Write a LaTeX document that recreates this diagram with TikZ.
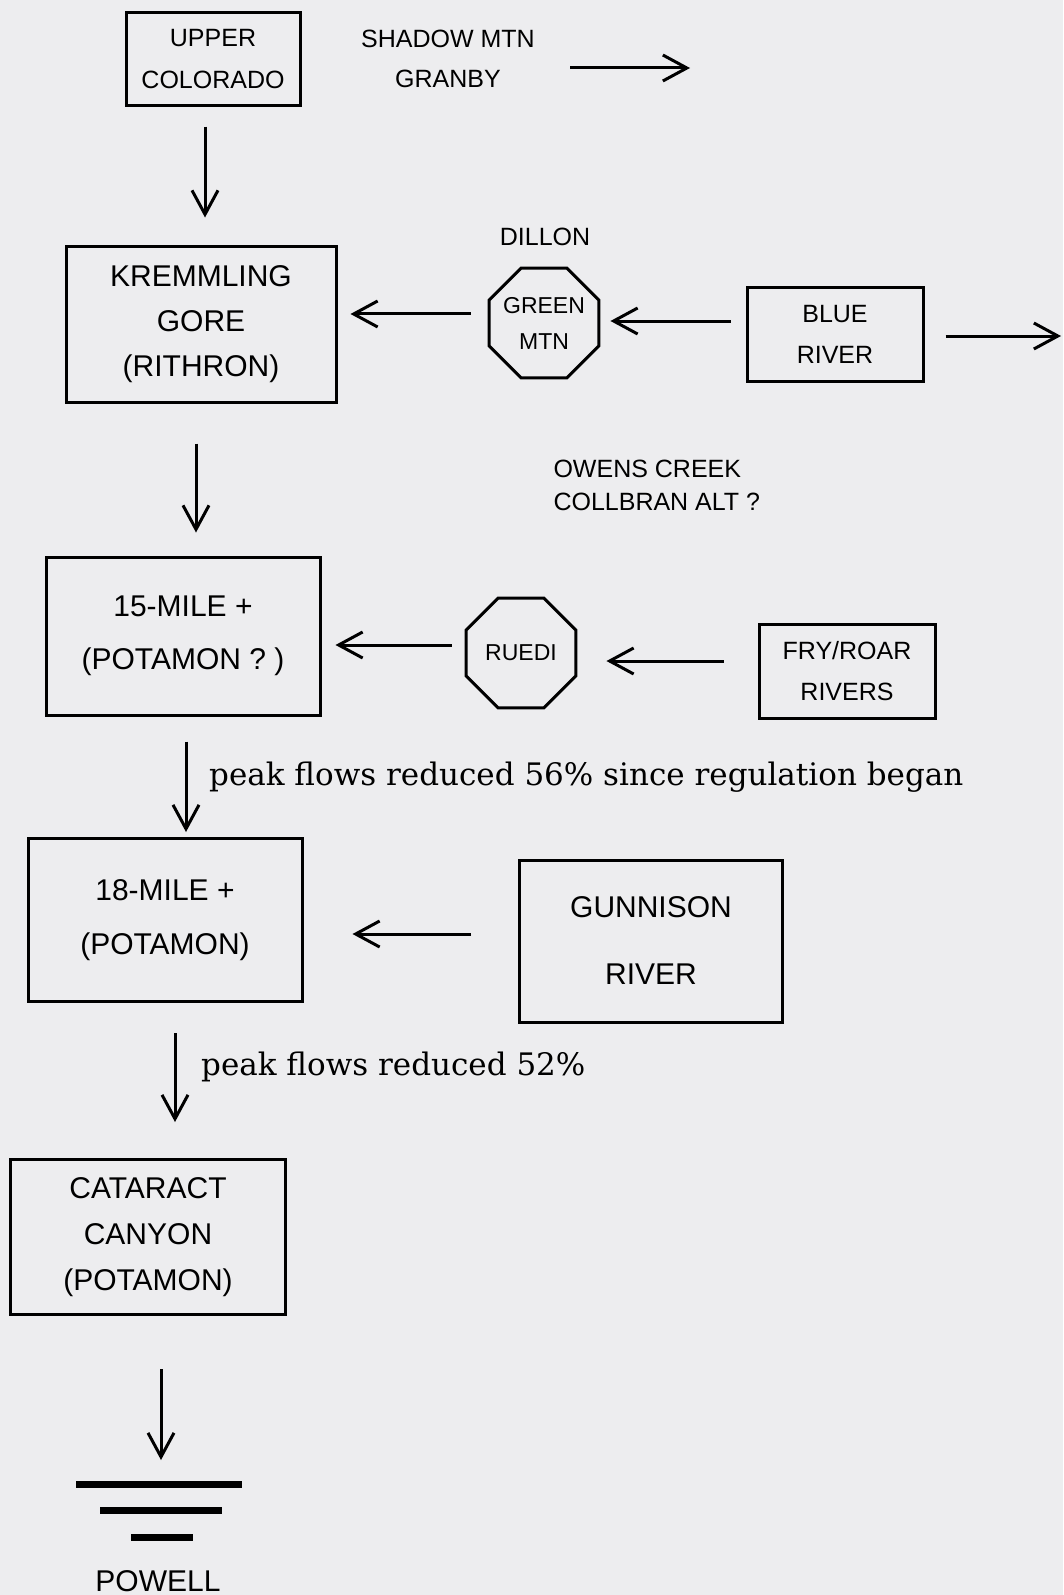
\documentclass[tikz,border=0pt]{standalone}
\usepackage{fontspec}
\setmainfont{Liberation Sans}
\newfontfamily\notefont{DejaVu Serif}
\usetikzlibrary{arrows.meta,shapes.geometric}
\definecolor{paper}{RGB}{237,237,239}

\begin{document}
\begin{tikzpicture}[x=1pt,y=-1pt,
  box/.style={draw, line width=3pt, inner sep=0pt, align=center},
  dam/.style={draw, line width=3pt, regular polygon, regular polygon sides=8, inner sep=-10pt, minimum size=119pt, align=center},
  small/.style={font=\fontsize{25}{#1}\selectfont},
  big/.style={font=\fontsize{30}{#1}\selectfont},
  flow/.style={line width=3pt, -{Straight Barb[length=24pt,width=26pt,line width=3pt]}},
  note/.style={font=\notefont\fontsize{31}{36}\selectfont, anchor=base west, inner sep=0pt}]
\useasboundingbox (0,0) rectangle (1063,1595);
\fill[paper] (0,0) rectangle (1063,1595);

\node[box, small=42, minimum width=174pt, minimum height=92pt] (upper) at (213,59) {UPPER\\COLORADO};
\node[small=40, align=center] (shadow) at (448,59) {SHADOW MTN\\GRANBY};
\node[box, big=45, minimum width=270pt, minimum height=156pt] (krem) at (201,324) {KREMMLING\\GORE\\(RITHRON)};
\node[dam, font=\fontsize{23}{36}\selectfont] (green) at (544,323) {GREEN\\MTN};
\node[small=30] (dillon) at (545,237) {DILLON};
\node[box, small=41, minimum width=176pt, minimum height=94pt] (blue) at (835,334) {BLUE\\RIVER};
\node[small=33, align=left, anchor=west] (owens) at (550,485) {OWENS CREEK\\COLLBRAN ALT ?};
\node[box, big=53, minimum width=274pt, minimum height=158pt] (fifteen) at (183,636) {15-MILE +\\(POTAMON ? )};
\node[dam, font=\fontsize{23}{30}\selectfont] (ruedi) at (521,653) {RUEDI};
\node[box, small=41, minimum width=176pt, minimum height=94pt] (fry) at (847,671) {FRY/ROAR\\RIVERS};
\node[note] (note1) at (209,785) {peak flows reduced 56\% since regulation began};
\node[box, big=54, minimum width=274pt, minimum height=163pt] (eighteen) at (165,920) {18-MILE +\\(POTAMON)};
\node[box, big=67, minimum width=263pt, minimum height=162pt] (gunnison) at (651,941) {GUNNISON\\RIVER};
\node[note] (note2) at (201,1075) {peak flows reduced 52\%};
\node[box, big=46, minimum width=275pt, minimum height=155pt] (cataract) at (148,1237) {CATARACT\\CANYON\\(POTAMON)};
\node[big=30] (powell) at (158,1581) {POWELL};

% lake Powell
\coordinate (lake) at (161,1484);
\draw[line width=7pt] (76,1484) -- (242,1484);
\draw[line width=7pt] (100,1510) -- (222,1510);
\draw[line width=7pt] (131,1537) -- (193,1537);

% arrow ends
\coordinate (a1) at ([xshift=-8pt]upper.south);
\coordinate (a2) at ([xshift=-5pt]krem.south);
\coordinate (a3) at ([xshift=3pt]fifteen.south);
\coordinate (a4) at ([xshift=10pt]eighteen.south);
\coordinate (h1) at ([yshift=9pt]green.west);
\coordinate (h2) at ([yshift=13pt]blue.west);
\coordinate (h3) at ([yshift=-2pt]blue.east);
\coordinate (h4) at ([yshift=8pt]ruedi.west);
\coordinate (h5) at ([yshift=10pt]fry.west);
\coordinate (h6) at ([yshift=7pt]gunnison.west);
\coordinate (granbyout) at (690,68);
\coordinate (blueout) at (1061,336);

\draw[flow, shorten <=32pt] (shadow.east |- granbyout) -- (granbyout);
\draw[flow, shorten <=20pt, shorten >=27pt] (a1) -- (a1 |- krem.north);
\draw[flow, shorten <=17pt, shorten >=13pt] (h1) -- (h1 -| krem.east);
\draw[flow, shorten <=15pt, shorten >=10pt] (h2) -- (h2 -| green.east);
\draw[flow, shorten <=21pt] (h3) -- (blueout);
\draw[flow, shorten <=40pt, shorten >=23pt] (a2) -- (a2 |- fifteen.north);
\draw[flow, shorten <=13pt, shorten >=14pt] (h4) -- (h4 -| fifteen.east);
\draw[flow, shorten <=34pt, shorten >=29pt] (h5) -- (h5 -| ruedi.east);
\draw[flow, shorten <=25pt, shorten >=5pt] (a3) -- (a3 |- eighteen.north);
\draw[flow, shorten <=47pt, shorten >=49pt] (h6) -- (h6 -| eighteen.east);
\draw[flow, shorten <=30pt, shorten >=36pt] (a4) -- (a4 |- cataract.north);
\draw[flow, shorten <=53pt, shorten >=24pt] (cataract.south -| lake) -- (lake);
\end{tikzpicture}
\end{document}
